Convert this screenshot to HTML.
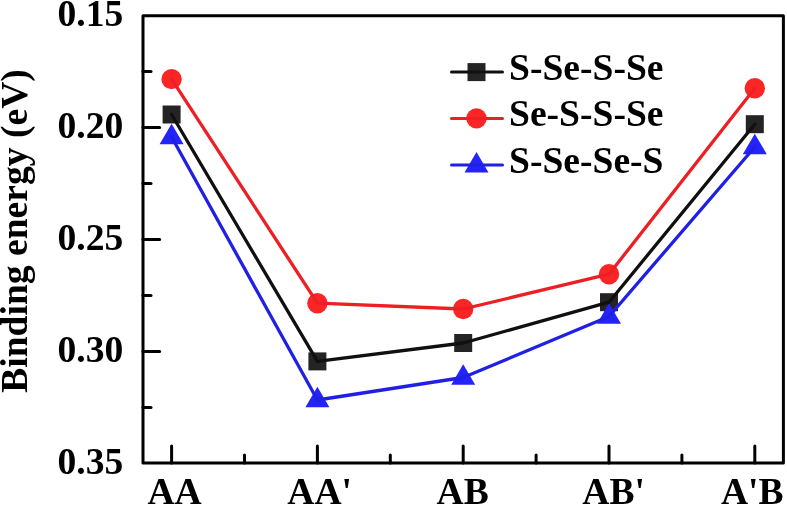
<!DOCTYPE html><html><head><meta charset="utf-8"><style>html,body{margin:0;padding:0;background:#fff;}svg{display:block;will-change:transform;}text{font-family:"Liberation Serif",serif;font-weight:bold;}</style></head><body>
<svg width="787" height="505" viewBox="0 0 787 505">
<rect x="143" y="15.7" width="640.4" height="447.2" fill="none" stroke="#000" stroke-width="3" stroke-linejoin="round"/>
<line x1="143" y1="127.6" x2="159.6" y2="127.6" stroke="#000" stroke-width="3" stroke-linecap="round"/>
<line x1="143" y1="239.5" x2="159.6" y2="239.5" stroke="#000" stroke-width="3" stroke-linecap="round"/>
<line x1="143" y1="351.4" x2="159.6" y2="351.4" stroke="#000" stroke-width="3" stroke-linecap="round"/>
<line x1="143" y1="71.6" x2="151" y2="71.6" stroke="#000" stroke-width="3" stroke-linecap="round"/>
<line x1="143" y1="183.6" x2="151" y2="183.6" stroke="#000" stroke-width="3" stroke-linecap="round"/>
<line x1="143" y1="295.5" x2="151" y2="295.5" stroke="#000" stroke-width="3" stroke-linecap="round"/>
<line x1="143" y1="407.4" x2="151" y2="407.4" stroke="#000" stroke-width="3" stroke-linecap="round"/>
<line x1="171.6" y1="463" x2="171.6" y2="446" stroke="#000" stroke-width="3" stroke-linecap="round"/>
<line x1="317.4" y1="463" x2="317.4" y2="446" stroke="#000" stroke-width="3" stroke-linecap="round"/>
<line x1="463.2" y1="463" x2="463.2" y2="446" stroke="#000" stroke-width="3" stroke-linecap="round"/>
<line x1="609.0" y1="463" x2="609.0" y2="446" stroke="#000" stroke-width="3" stroke-linecap="round"/>
<line x1="754.8" y1="463" x2="754.8" y2="446" stroke="#000" stroke-width="3" stroke-linecap="round"/>
<line x1="244.5" y1="463" x2="244.5" y2="455" stroke="#000" stroke-width="3" stroke-linecap="round"/>
<line x1="390.29999999999995" y1="463" x2="390.29999999999995" y2="455" stroke="#000" stroke-width="3" stroke-linecap="round"/>
<line x1="536.1" y1="463" x2="536.1" y2="455" stroke="#000" stroke-width="3" stroke-linecap="round"/>
<line x1="681.9" y1="463" x2="681.9" y2="455" stroke="#000" stroke-width="3" stroke-linecap="round"/>
<text x="123.3" y="26.4" font-size="37.6" text-anchor="end">0.15</text>
<text x="123.3" y="138.3" font-size="37.6" text-anchor="end">0.20</text>
<text x="123.3" y="250.2" font-size="37.6" text-anchor="end">0.25</text>
<text x="123.3" y="362.1" font-size="37.6" text-anchor="end">0.30</text>
<text x="123.3" y="474.0" font-size="37.6" text-anchor="end">0.35</text>
<text x="174.6" y="503.5" font-size="37.6" text-anchor="middle">AA</text>
<text x="319.7" y="503.5" font-size="37.6" text-anchor="middle">AA'</text>
<text x="462.7" y="503.5" font-size="37.6" text-anchor="middle">AB</text>
<text x="613.6" y="503.5" font-size="37.6" text-anchor="middle">AB'</text>
<text x="752.3" y="503.5" font-size="37.6" text-anchor="middle">A'B</text>
<text transform="translate(27,231) rotate(-90)" font-size="37.6" text-anchor="middle">Binding energy (eV)</text>
<rect x="162.6" y="105.5" width="18" height="18" fill="#242424"/>
<rect x="308.4" y="352.4" width="18" height="18" fill="#242424"/>
<rect x="454.2" y="334.0" width="18" height="18" fill="#242424"/>
<rect x="600.0" y="293.2" width="18" height="18" fill="#242424"/>
<rect x="745.8" y="115.2" width="18" height="18" fill="#242424"/>
<circle cx="171.6" cy="79.1" r="10.2" fill="#fa2626"/>
<circle cx="317.4" cy="303.2" r="10.2" fill="#fa2626"/>
<circle cx="463.2" cy="309.0" r="10.2" fill="#fa2626"/>
<circle cx="609.0" cy="274.2" r="10.2" fill="#fa2626"/>
<circle cx="754.8" cy="88.3" r="10.2" fill="#fa2626"/>
<polygon points="171.6,123.8 159.6,144.3 183.6,144.3" fill="#2424fa"/>
<polygon points="317.4,386.8 305.4,407.3 329.4,407.3" fill="#2424fa"/>
<polygon points="463.2,364.3 451.2,384.8 475.2,384.8" fill="#2424fa"/>
<polygon points="609.0,303.3 597.0,323.8 621.0,323.8" fill="#2424fa"/>
<polygon points="754.8,133.8 742.8,154.3 766.8,154.3" fill="#2424fa"/>
<polyline points="171.6,114.5 317.4,361.4 463.2,343.0 609.0,302.2 754.8,124.2" fill="none" stroke="#101010" stroke-width="3.3" stroke-linejoin="round" stroke-linecap="round"/>
<polyline points="171.6,79.1 317.4,303.2 463.2,309.0 609.0,274.2 754.8,88.3" fill="none" stroke="#ec2024" stroke-width="3.3" stroke-linejoin="round" stroke-linecap="round"/>
<polyline points="171.6,137.0 317.4,400.0 463.2,377.5 609.0,316.5 754.8,147.0" fill="none" stroke="#2020e4" stroke-width="3.3" stroke-linejoin="round" stroke-linecap="round"/>
<rect x="467.5" y="63.099999999999994" width="18" height="18" fill="#242424"/>
<line x1="451.5" y1="72.1" x2="502.5" y2="72.1" stroke="#101010" stroke-width="3" stroke-linecap="round"/>
<text x="509" y="80.1" font-size="37.6">S-Se-S-Se</text>
<circle cx="476.5" cy="118.4" r="10.2" fill="#fa2626"/>
<line x1="451.5" y1="118.4" x2="502.5" y2="118.4" stroke="#ec2024" stroke-width="3" stroke-linecap="round"/>
<text x="509" y="126.4" font-size="37.6">Se-S-S-Se</text>
<polygon points="476.5,151.9 464.5,172.4 488.5,172.4" fill="#2424fa"/>
<line x1="451.5" y1="165.1" x2="502.5" y2="165.1" stroke="#2020e4" stroke-width="3" stroke-linecap="round"/>
<text x="509" y="173.1" font-size="37.6">S-Se-Se-S</text>
</svg></body></html>
